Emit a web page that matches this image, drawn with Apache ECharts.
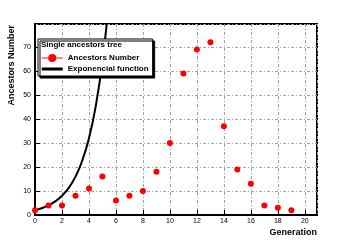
<!DOCTYPE html>
<html>
<head>
<meta charset="utf-8">
<script src="https://cdn.jsdelivr.net/npm/echarts@6/dist/echarts.min.js"></script>
<style>html,body{margin:0;padding:0;background:#fff}#c{width:354px;height:240px}</style>
</head>
<body>
<div id="c"></div>
<script>
const generations = [0,1,2,3,4,5,6,7,8,9,10,11,12,13,14,15,16,17,18,19];
const ancestors = [2,4,4,8,11,16,6,8,10,18,30,59,69,72,37,19,13,4,3,2];
const expX = [0,0.5,1,1.5,2,2.5,3,3.5,4,4.5,5,5.5,6];
const expY = [2,2.83,4,5.66,8,11.3,16,22.6,32,45.3,64,90.5,128];
const xTicks = [0,2,4,6,8,10,12,14,16,18,20];
const yTicks = [0,10,20,30,40,50,60,70];
const legendTitle = 'Single ancestors tree';
const seriesNames = ['Ancestors Number','Exponencial function'];

const FONT = 'Liberation Sans, Arial, Helvetica, sans-serif';
const chart = echarts.init(document.getElementById('c'), null, {renderer:'canvas'});
const gridLine = {show:true, lineStyle:{color:'#a0a0a0', width:1, type:[3,2,1,2]}};
chart.setOption({
  animation:false,
  backgroundColor:'#fff',
  title:{text:legendTitle, left:41, top:41, padding:0,
    textStyle:{fontFamily:FONT, fontSize:8, fontWeight:'bold', color:'#000'}, z:10},
  legend:{orient:'vertical', left:38, top:39, padding:[15,4,3,3],
    itemWidth:21, itemHeight:10, itemGap:3,
    backgroundColor:'#fff', borderColor:'#000', borderWidth:1,
    shadowColor:'#000', shadowOffsetX:2, shadowOffsetY:2, shadowBlur:0,
    textStyle:{fontFamily:FONT, fontSize:8, fontWeight:'bold', color:'#000'},
    data:[
      {name:seriesNames[0], itemStyle:{color:'#ff0000'}, lineStyle:{color:'#ff6060', width:1.5, opacity:1}},
      {name:seriesNames[1], icon:'path://M0,0 L21,0 L21,3 L0,3 Z', itemStyle:{color:'#000'}}
    ]},
  grid:{left:35, right:37, top:24, bottom:25, show:true, borderColor:'#000', borderWidth:2, backgroundColor:'transparent'},
  xAxis:{type:'value', min:0, max:20.9, interval:2,
    name:'Generation', nameLocation:'end', nameGap:0,
    nameTextStyle:{fontFamily:FONT, fontSize:9, fontWeight:'bold', color:'#000', align:'right', verticalAlign:'top', padding:[13,0,0,0]},
    axisLine:{show:true, lineStyle:{color:'#000', width:2}},
    axisTick:{show:true, inside:true, length:5, lineStyle:{color:'#000'}},
    axisLabel:{fontFamily:FONT, fontSize:7, color:'#000', margin:3, showMaxLabel:false,
      formatter:v => xTicks.includes(v) ? String(v) : ''},
    splitLine:gridLine},
  yAxis:{type:'value', min:0, max:79.6, interval:10,
    name:'Ancestors Number', nameLocation:'end', nameGap:-1, nameRotate:90,
    nameTextStyle:{fontFamily:FONT, fontSize:9, fontWeight:'bold', color:'#000', align:'right', verticalAlign:'bottom', padding:[0,0,19,0]},
    axisLine:{show:true, lineStyle:{color:'#000', width:2}},
    axisTick:{show:true, inside:true, length:5, lineStyle:{color:'#000'}},
    axisLabel:{fontFamily:FONT, fontSize:7, color:'#000', margin:4, showMaxLabel:false,
      formatter:v => yTicks.includes(v) ? String(v) : ''},
    splitLine:gridLine},
  series:[
    {name:seriesNames[0], type:'line', data:generations.map((g,i)=>[g, ancestors[i]]),
      symbol:'circle', symbolSize:6, showSymbol:true, itemStyle:{color:'#ff0000'},
      lineStyle:{width:0, opacity:0}, z:3},
    {name:seriesNames[1], type:'line', data:expX.map((x,i)=>[x, expY[i]]),
      smooth:true, showSymbol:false, symbol:'none', clip:true,
      lineStyle:{color:'#000', width:2}, itemStyle:{color:'#000'}, z:2}
  ]
});
</script>
</body>
</html>
